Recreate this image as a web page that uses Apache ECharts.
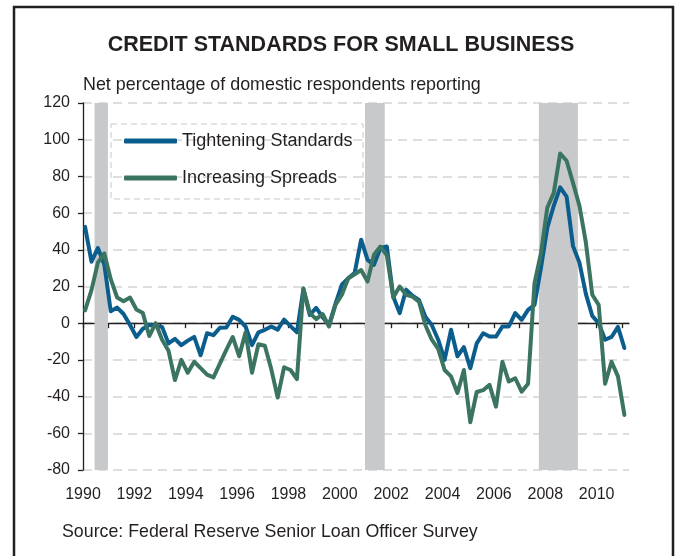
<!DOCTYPE html>
<html>
<head>
<meta charset="utf-8">
<title>Credit Standards for Small Business</title>
<script src="https://cdn.jsdelivr.net/npm/echarts@6/dist/echarts.min.js"></script>
<style>
  html, body { margin: 0; padding: 0; background: #fff; }
  #main { width: 682px; height: 556px; }
</style>
</head>
<body>
<div id="main"></div>
<script>
// quarterly survey, first reading early 1990, last early 2011
const firstSurvey = 1990.08;
const surveyStep = 0.25;

// Tightening Standards (net %)
const tightening = [
  52.5, 33.5, 41, 32, 6.5, 8.5, 5, -1, -7.5, -3,
  -1, -1.5, -2, -11, -8.5, -12, -9.5, -7.5, -17.5, -5.5,
  -6.5, -2.5, -2.3, 3.5, 1.8, -1.8, -12, -5, -3.6, -1.8,
  -3.5, 2, -1.6, -5, 18.5, 4.5, 8.3, 3.3, -0.9, 10.5,
  21, 24.5, 27.5, 45.5, 34.5, 31.8, 41, 41.8, 14.5, 5.5,
  18.2, 15, 12.7, 3.6, -1, -9, -20, -3.6, -18, -13,
  -24.5, -11, -5.5, -7.3, -7.3, -1.8, -1.8, 5.5, 1.8, 7.3,
  10, 30, 52, 64, 74, 69, 42, 33, 16, 4,
  0, -9, -7.5, -2, -13.5
];

// Increasing Spreads (net %)
const spreads = [
  7, 18, 33, 38, 24, 14, 12, 14, 7.5, 5.5,
  -7, 0, -9, -15, -31, -20, -27, -21, -24.5, -28,
  -29.5, -22, -14.5, -7.5, -18, -5, -27, -11.5, -12.3, -25,
  -40.5, -24, -25.5, -30.5, 19, 5.5, 2.2, 5, -1.8, 10,
  15.5, 24.5, 26.7, 29, 22.7, 37.3, 41.8, 37, 14, 20,
  15.5, 14.5, 11.8, -1, -9, -14, -25.5, -29, -38, -25.5,
  -54, -37.5, -36.5, -33.6, -45.5, -21, -31.8, -30, -37.3, -33,
  21.8, 38, 63, 71, 92.5, 88.5, 76.5, 64, 44, 15.5,
  10, -33, -21, -29, -50
];

// recession bands (start, end) in decimal years
const recessions = [[1990.45, 1990.97], [2000.98, 2001.75], [2007.75, 2009.27]];

const yearLabels = [1990, 1992, 1994, 1996, 1998, 2000, 2002, 2004, 2006, 2008, 2010];
const yearTicks = [1990, 1991, 1992, 1993, 1994, 1995, 1996, 1997, 1998, 1999, 2000,
  2001, 2002, 2003, 2004, 2005, 2006, 2007, 2008, 2009, 2010, 2011];

const ink = '#231f20';
const font = 'Liberation Sans, Arial, sans-serif';

function toPairs(values) {
  return values.map(function (v, i) { return [firstSurvey + i * surveyStep, v]; });
}

const chart = echarts.init(document.getElementById('main'));

chart.setOption({
  backgroundColor: '#fff',
  animation: false,
  textStyle: { fontFamily: font, color: ink },
  title: {
    text: 'CREDIT STANDARDS FOR SMALL BUSINESS',
    left: 'center',
    top: 29,
    textStyle: { fontFamily: font, fontSize: 21.5, fontWeight: 'bold', color: ink }
  },
  legend: {
    data: ['Tightening Standards', 'Increasing Spreads'],
    orient: 'vertical',
    left: 124,
    top: 131,
    padding: 0,
    itemWidth: 53,
    itemHeight: 5,
    itemGap: 17,
    icon: 'roundRect',
    selectedMode: false,
    textStyle: { fontFamily: font, fontSize: 18, color: ink, lineHeight: 20 }
  },
  grid: { left: 83, right: 53, top: 103, bottom: 86, containLabel: false },
  xAxis: [{
    type: 'value',
    min: 1990,
    max: 2011.26,
    axisLine: { onZero: true, lineStyle: { color: ink, width: 1.3 } },
    axisTick: { show: true, length: 5, customValues: yearTicks, lineStyle: { color: ink, width: 1.3 } },
    axisLabel: { show: false },
    splitLine: { show: false }
  }, {
    type: 'value',
    position: 'bottom',
    min: 1990,
    max: 2011.26,
    axisLine: { show: false, onZero: false },
    axisTick: { show: false },
    axisLabel: {
      customValues: yearLabels,
      fontFamily: font, fontSize: 16, color: ink, margin: 17,
      formatter: function (v) { return String(v); }
    },
    splitLine: { show: false }
  }],
  yAxis: {
    type: 'value',
    min: -80,
    max: 120,
    interval: 20,
    axisLine: { show: true, lineStyle: { color: ink, width: 1.3 } },
    axisTick: { show: true, length: 5, lineStyle: { color: ink, width: 1.3 } },
    axisLabel: { fontFamily: font, fontSize: 16, color: ink, margin: 13 },
    splitLine: { show: true, lineStyle: { color: '#d3d3d3', width: 1.5, type: [9, 6] } }
  },
  graphic: [{
    type: 'rect',
    shape: { x: 14, y: 7, width: 659, height: 560 },
    style: { fill: 'none', stroke: ink, lineWidth: 2.5 },
    silent: true,
    z: 100
  }, {
    type: 'text',
    left: 83,
    top: 76,
    style: { text: 'Net percentage of domestic respondents reporting', font: '17.9px ' + font, fill: ink }
  }, {
    type: 'text',
    left: 62,
    top: 523,
    style: { text: 'Source: Federal Reserve Senior Loan Officer Survey', font: '17.8px ' + font, fill: ink }
  }, {
    type: 'rect',
    shape: { x: 111, y: 124, width: 252, height: 75 },
    style: { fill: '#fff', stroke: '#c8c8c8', lineWidth: 1, lineDash: [6, 4] },
    z: -1
  }],
  series: [{
    name: 'Tightening Standards',
    type: 'line',
    data: toPairs(tightening),
    showSymbol: false,
    color: '#0b5d8e',
    lineStyle: { width: 4, color: '#0b5d8e', join: 'round', cap: 'round' },
    z: 3,
    markArea: {
      silent: true,
      itemStyle: { color: '#c8c9cb' },
      data: recessions.map(function (r) { return [{ xAxis: r[0] }, { xAxis: r[1] }]; })
    }
  }, {
    name: 'Increasing Spreads',
    type: 'line',
    data: toPairs(spreads),
    showSymbol: false,
    color: '#3b7562',
    lineStyle: { width: 4, color: '#3b7562', join: 'round', cap: 'round' },
    z: 4
  }]
});
</script>
</body>
</html>
